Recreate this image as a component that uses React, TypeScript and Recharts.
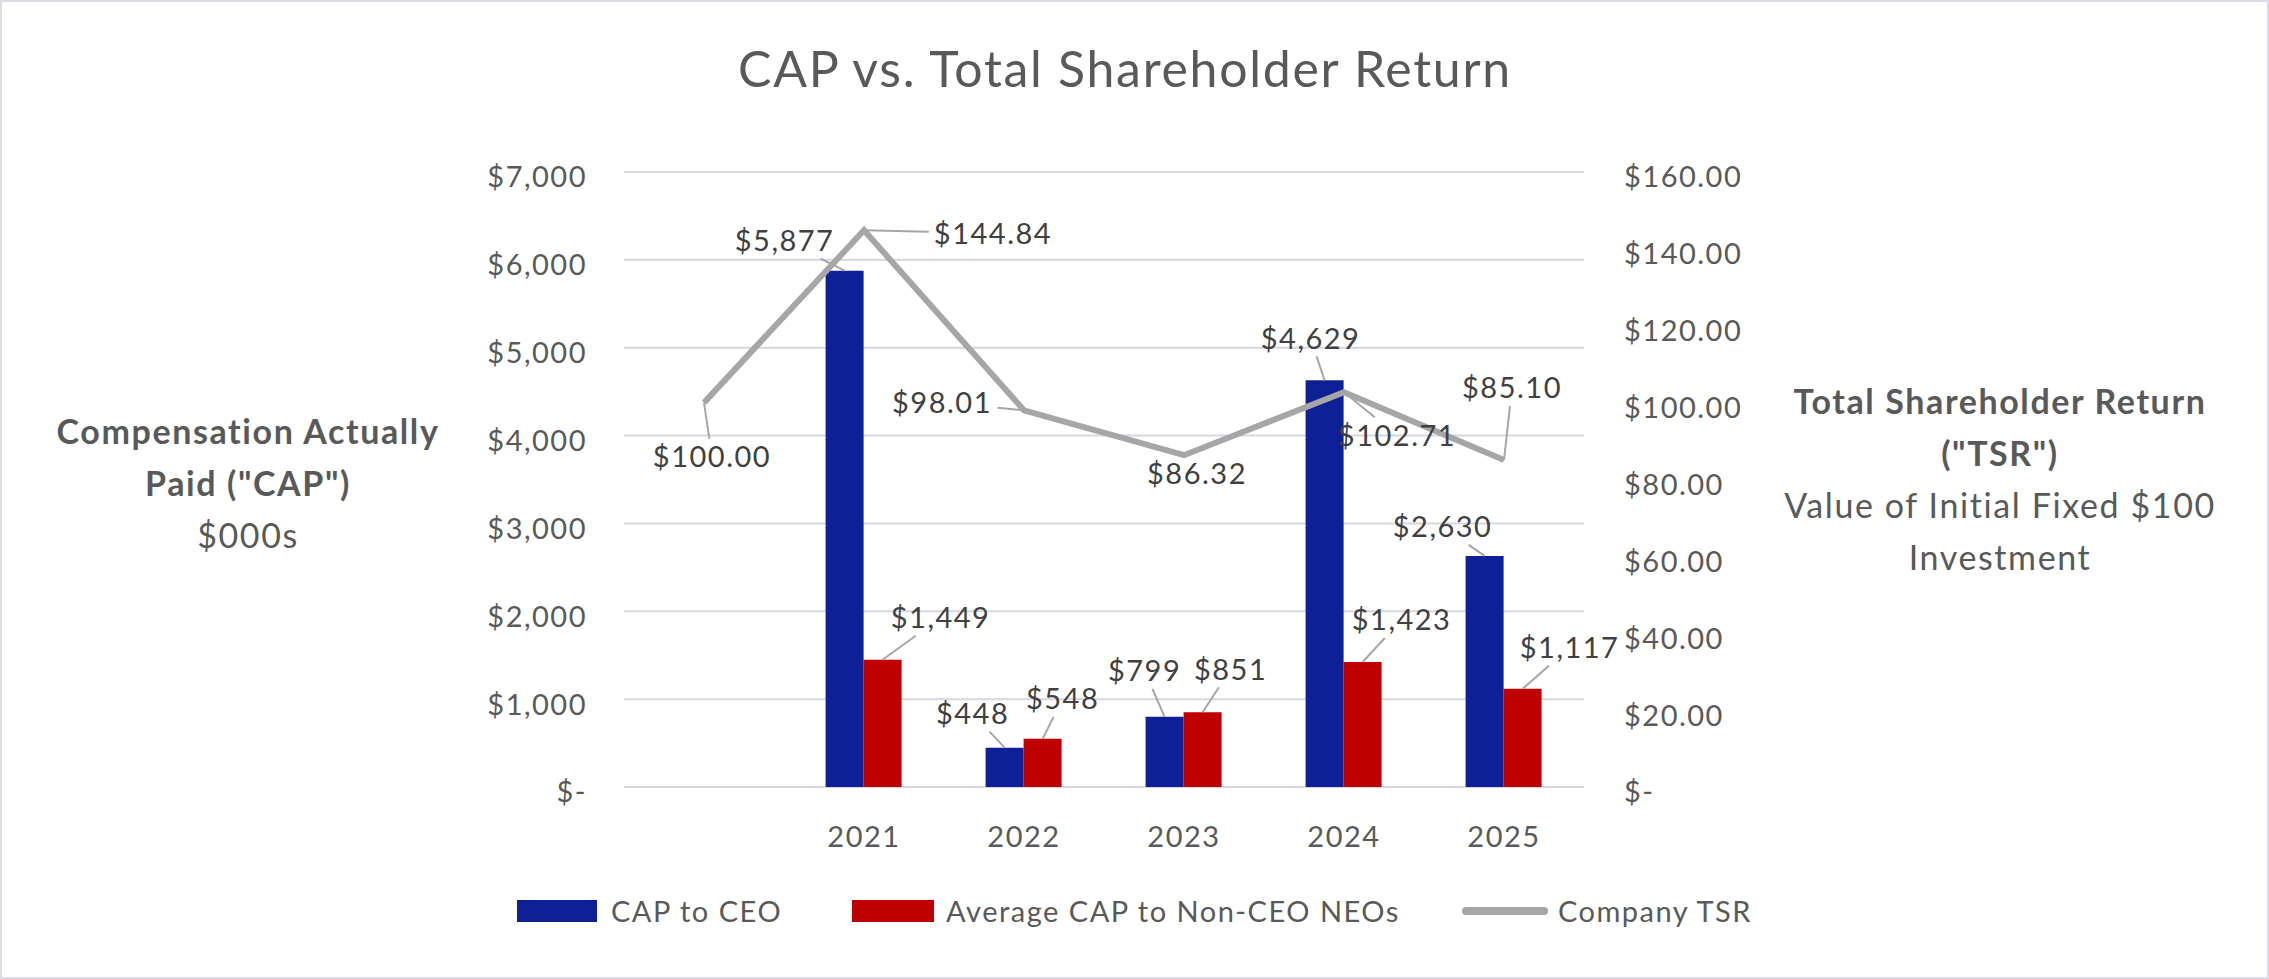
import React from "react"
import { ComposedChart, Bar, Line, XAxis, YAxis, CartesianGrid, LabelList, Legend } from "recharts"

// ---- data ----
const years = ["", "2021", "2022", "2023", "2024", "2025"]
const capToCeo = [null, 5877, 448, 799, 4629, 2630]
const avgCapNonCeo = [null, 1449, 548, 851, 1423, 1117]
const companyTsr = [100.0, 144.84, 98.01, 86.32, 102.71, 85.1]

const capTicks = [0, 1000, 2000, 3000, 4000, 5000, 6000, 7000]
const tsrTicks = [0, 20, 40, 60, 80, 100, 120, 140, 160]

// where each data label sits relative to its mark (dx, dy), like the moved Excel labels
const ceoLabelOffsets = [[0, 0], [-60, -30], [-32, -34], [-20, -46], [-14, -42], [-42, -29]]
const neoLabelOffsets = [[0, 0], [58, -42], [20, -40], [28, -43], [39, -42], [47, -41]]
const tsrLabelOffsets = [[8, 54], [129, 3], [-82, -8], [13, 18], [53, 43], [8, -72]]

const data = years.map((year, i) => ({
  year,
  ceo: capToCeo[i],
  neo: avgCapNonCeo[i],
  tsr: companyTsr[i],
}))

const FONT = "Lato, 'Open Sans', sans-serif"
const TEXT = "#595959"
const LABEL = "#404040"
const BLUE = "#0F2096"
const RED = "#C00000"
const GRAY = "#A6A6A6"
const GRID = "#D9D5E3"

const fmtCap = (v: number) => (v === 0 ? "$-" : "$" + v.toLocaleString("en-US"))
const fmtTsr = (v: number) => (v === 0 ? "$-" : "$" + v.toFixed(2))

// bars with no value are skipped by the library, so find the offset by the value itself
const makeLabel = (
  series: (number | null)[],
  offsets: number[][],
  fmt: (v: number) => string,
  isLine: boolean
) => (props: any) => {
  const { x, y, width, value } = props
  if (value == null) return null
  const i = series.indexOf(value)
  const ax = isLine ? x : x + width / 2
  const ay = y
  const [dx, dy] = offsets[i < 0 ? 0 : i]
  const cx = ax + dx
  const cy = ay + dy
  const text = fmt(value)
  const hw = text.length * 8.6 + 4
  const hh = 18
  const t = Math.min(hw / Math.max(Math.abs(dx), 0.001), hh / Math.max(Math.abs(dy), 0.001))
  const gap = Math.hypot(dx, dy) * (1 - t)
  return (
    <g>
      {t < 1 && gap > 8 && (
        <line x1={cx - dx * t} y1={cy - dy * t} x2={ax} y2={ay} stroke={GRAY} strokeWidth={2} />
      )}
      <text
        x={cx}
        y={cy}
        dy="0.36em"
        textAnchor="middle"
        fill={LABEL}
        fontSize={29}
        letterSpacing={1.5}
        fontFamily={FONT}
      >
        {text}
      </text>
    </g>
  )
}

const LeftTick = (props: any) => {
  const { x, y, payload } = props
  return (
    <text x={x} y={y + 5} dy="0.36em" textAnchor="end" fill={TEXT} fontSize={29} letterSpacing={1.5} fontFamily={FONT}>
      {fmtCap(payload.value)}
    </text>
  )
}

const RightTick = (props: any) => {
  const { x, y, payload } = props
  return (
    <text x={x} y={y + 5} dy="0.36em" textAnchor="start" fill={TEXT} fontSize={29} letterSpacing={1.5} fontFamily={FONT}>
      {fmtTsr(payload.value)}
    </text>
  )
}

const YearTick = (props: any) => {
  const { x, y, payload } = props
  return (
    <text x={x} y={y} dy="0.36em" textAnchor="middle" fill={TEXT} fontSize={29} letterSpacing={1.5} fontFamily={FONT}>
      {payload.value}
    </text>
  )
}

const LegendContent = () => (
  <div
    style={{
      display: "flex",
      justifyContent: "center",
      alignItems: "center",
      fontFamily: FONT,
      fontSize: 29,
      letterSpacing: 1.5,
      color: TEXT,
    }}
  >
    <span style={{ display: "inline-block", width: 80, height: 22, background: BLUE, marginRight: 14 }} />
    <span style={{ marginRight: 70 }}>CAP to CEO</span>
    <span style={{ display: "inline-block", width: 82, height: 22, background: RED, marginRight: 12 }} />
    <span style={{ marginRight: 62 }}>Average CAP to Non-CEO NEOs</span>
    <span style={{ display: "inline-block", width: 86, height: 8, borderRadius: 4, background: GRAY, marginRight: 10 }} />
    <span>Company TSR</span>
  </div>
)

const axisTitle: React.CSSProperties = {
  position: "absolute",
  fontFamily: FONT,
  fontSize: 34,
  letterSpacing: 1.6,
  color: TEXT,
  textAlign: "center",
  lineHeight: "52px",
  whiteSpace: "nowrap",
  transform: "translateX(-50%)",
}

export default function App() {
  return (
    <div style={{ position: "relative", width: 2269, height: 979, background: "#fff" }}>
      <style>{`body{margin:0}`}</style>
      <div
        style={{
          position: "absolute",
          left: 0,
          top: 34,
          width: 2250,
          textAlign: "center",
          fontFamily: FONT,
          fontSize: 50,
          letterSpacing: 1.7,
          color: TEXT,
          lineHeight: "68px",
        }}
      >
        CAP vs. Total Shareholder Return
      </div>

      <div style={{ ...axisTitle, left: 248, top: 405 }}>
        <div style={{ fontWeight: 700 }}>Compensation Actually</div>
        <div style={{ fontWeight: 700 }}>Paid ("CAP")</div>
        <div>$000s</div>
      </div>

      <div style={{ ...axisTitle, left: 2000, top: 375 }}>
        <div style={{ fontWeight: 700 }}>Total Shareholder Return</div>
        <div style={{ fontWeight: 700 }}>("TSR")</div>
        <div>Value of Initial Fixed $100</div>
        <div>Investment</div>
      </div>

      <ComposedChart
        width={2269}
        height={979}
        data={data}
        margin={{ top: 172, right: 545, bottom: 132, left: 524 }}
        barGap={0}
        barCategoryGap="26%"
      >
        <CartesianGrid yAxisId="left" vertical={false} stroke={GRID} strokeWidth={2} />
        <XAxis dataKey="year" axisLine={false} tickLine={false} tickSize={0} tickMargin={50} height={60} tick={<YearTick />} />
        <YAxis
          yAxisId="left"
          domain={[0, 7000]}
          ticks={capTicks}
          axisLine={false}
          tickLine={false}
          tickSize={0}
          tickMargin={37}
          width={100}
          tick={<LeftTick />}
        />
        <YAxis
          yAxisId="right"
          orientation="right"
          domain={[0, 160]}
          ticks={tsrTicks}
          axisLine={false}
          tickLine={false}
          tickSize={0}
          tickMargin={40}
          width={140}
          tick={<RightTick />}
        />
        <Bar yAxisId="left" dataKey="ceo" name="CAP to CEO" fill={BLUE} isAnimationActive={false}>
          <LabelList dataKey="ceo" content={makeLabel(capToCeo, ceoLabelOffsets, fmtCap, false)} />
        </Bar>
        <Bar yAxisId="left" dataKey="neo" name="Average CAP to Non-CEO NEOs" fill={RED} isAnimationActive={false}>
          <LabelList dataKey="neo" content={makeLabel(avgCapNonCeo, neoLabelOffsets, fmtCap, false)} />
        </Bar>
        <Line
          yAxisId="right"
          dataKey="tsr"
          name="Company TSR"
          stroke={GRAY}
          strokeWidth={6}
          dot={false}
          isAnimationActive={false}
        >
          <LabelList dataKey="tsr" content={makeLabel(companyTsr, tsrLabelOffsets, fmtTsr, true)} />
        </Line>
        <Legend
          layout="horizontal"
          verticalAlign="middle"
          align="center"
          content={<LegendContent />}
          wrapperStyle={{ top: 893, left: 0, width: 2269 }}
        />
      </ComposedChart>

      <div
        style={{
          position: "absolute",
          inset: 0,
          border: "2px solid #DCDAE4",
          pointerEvents: "none",
        }}
      />
    </div>
  )
}
